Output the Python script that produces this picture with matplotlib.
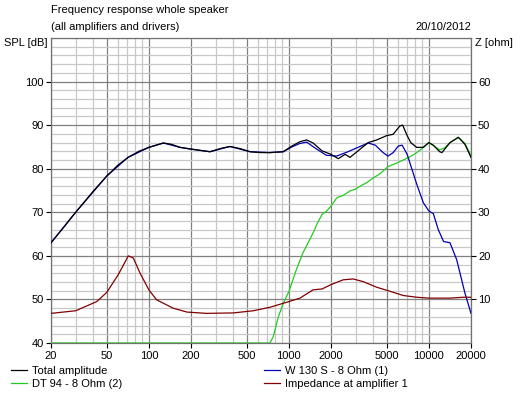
import matplotlib
matplotlib.use("Agg")
import matplotlib.pyplot as plt
from matplotlib.ticker import FixedLocator, NullFormatter, FixedFormatter

plt.rcParams['font.family'] = ['Liberation Sans', 'DejaVu Sans']

# ---- data ----
total_f = [20, 25, 30, 40, 50, 60, 71, 85, 100, 127, 145, 167, 200, 273, 330, 380, 450, 528, 626,
           733, 912, 1050, 1200, 1340, 1490, 1726, 2000, 2255, 2525, 2735, 3120, 3690, 4240, 5000,
           5560, 6200, 6500, 7000, 7420, 8185, 9100, 10000, 10760, 11950, 12400, 14160, 16240,
           18100, 20000]
total_db = [63.0, 66.8, 70.0, 74.8, 78.3, 80.8, 82.6, 84.0, 84.9, 85.9, 85.6, 84.9, 84.5, 83.9, 84.7,
            85.1, 84.6, 83.9, 83.7, 83.7, 83.9, 85.2, 86.2, 86.6, 85.9, 84.1, 83.3, 82.3, 83.3, 82.6,
            84.1, 86.0, 86.6, 87.6, 87.9, 89.8, 90.0, 87.6, 86.0, 84.9, 84.9, 86.0, 85.4, 83.9, 83.7,
            86.0, 87.2, 85.6, 82.6]

woof_f = [20, 30, 50, 71, 100, 127, 167, 200, 273, 380, 528, 733, 912, 1050, 1200, 1340, 1581, 1850,
          2196, 2600, 3120, 3690, 4150, 4710, 5110, 5560, 6050, 6440, 7000, 7640, 8185, 9129, 10000,
          10760, 11680, 12740, 14160, 15810, 18120, 20000]
woof_db = [63.0, 70.0, 78.3, 82.6, 84.9, 85.9, 84.9, 84.5, 83.9, 85.1, 83.9, 83.7, 83.9, 85.0, 85.8,
           86.1, 84.5, 83.1, 82.9, 83.8, 84.9, 85.9, 85.4, 83.7, 82.9, 83.7, 85.2, 85.4, 83.3, 79.5,
           76.5, 72.2, 70.3, 69.7, 66.0, 63.3, 63.0, 59.1, 51.4, 46.8]

tweet_f = [20, 733, 774, 843, 912, 1000, 1131, 1261, 1408, 1527, 1581, 1726, 1850, 2000, 2196, 2450,
           2735, 3000, 3230, 3600, 4020, 4500, 5112, 5800, 6568, 7400, 8185, 8850, 10000, 10900,
           11950, 13000, 14160, 16240, 18100, 20000]
tweet_db = [40.0, 40.0, 41.5, 46.1, 49.1, 51.8, 56.8, 60.7, 63.7, 66.0, 67.2, 69.5, 70.2, 71.4, 73.3,
            73.9, 74.9, 75.3, 76.0, 76.8, 77.9, 78.9, 80.5, 81.2, 82.0, 82.8, 83.7, 84.5, 86.0, 85.2,
            84.3, 84.8, 86.0, 87.2, 85.8, 83.0]

imp_f = [20, 30, 42.4, 50, 60.5, 71.3, 77.5, 86.3, 100, 113.7, 149, 187, 258, 400, 557, 733, 1000,
         1200, 1490, 1726, 2000, 2443, 2875, 3385, 4240, 5000, 6568, 8185, 10000, 14160, 17600, 20000]
imp_ohm = [6.8, 7.4, 9.5, 11.6, 15.7, 20.0, 19.5, 16.1, 12.2, 9.9, 8.0, 7.1, 6.8, 6.9, 7.4, 8.2, 9.5,
           10.3, 12.2, 12.4, 13.4, 14.5, 14.7, 14.1, 12.8, 12.1, 10.9, 10.5, 10.3, 10.3, 10.5, 10.5]

x_ticks = [20, 50, 100, 200, 500, 1000, 2000, 5000, 10000, 20000]
x_minor = [30, 40, 60, 70, 80, 90, 300, 400, 600, 700, 800, 900, 3000, 4000, 6000, 7000, 8000, 9000]
spl_ticks = [40, 50, 60, 70, 80, 90, 100]
z_ticks = [10, 20, 30, 40, 50, 60]

labels = ["Total amplitude", "W 130 S - 8 Ohm (1)", "DT 94 - 8 Ohm (2)", "Impedance at amplifier 1"]
colors = ["#000000", "#0000b4", "#22cc22", "#800000"]

W, H = 520, 397
fig = plt.figure(figsize=(W / 100, H / 100), dpi=100)
fig.patch.set_facecolor('white')

L, R, T, B = 51, 471, 38, 343
ax = fig.add_axes([L / W, 1 - B / H, (R - L) / W, (B - T) / H])
ax.set_xscale('log')
ax.set_xlim(20, 20000)
ax.set_ylim(40, 110)

ax.xaxis.set_major_locator(FixedLocator(x_ticks))
ax.xaxis.set_major_formatter(FixedFormatter([str(v) for v in x_ticks]))
ax.xaxis.set_minor_locator(FixedLocator(x_minor))
ax.xaxis.set_minor_formatter(NullFormatter())
ax.yaxis.set_major_locator(FixedLocator(spl_ticks))
ax.yaxis.set_minor_locator(FixedLocator([v for v in range(40, 111, 2) if v % 10 != 0] + [110]))

ax.grid(True, which='major', color='#808080', lw=0.9)
ax.grid(True, which='minor', color='#c8c8c8', lw=0.9)
ax.set_axisbelow(True)
ax.tick_params(which='major', direction='out', length=3.5, width=0.8, color='black',
               labelsize=8, pad=1.5)
ax.tick_params(axis='x', which='major', pad=2)
ax.tick_params(which='minor', length=0)
for s in ax.spines.values():
    s.set_color('#707070')
    s.set_linewidth(0.9)

ax2 = ax.twinx()
ax2.set_ylim(0, 70)
ax2.yaxis.set_major_locator(FixedLocator(z_ticks))
ax2.yaxis.set_minor_locator(FixedLocator([]))
ax2.tick_params(which='major', direction='out', length=3.5, width=0.8, color='black',
                labelsize=8, pad=1.5)
for s in ax2.spines.values():
    s.set_visible(False)

lw = 0.9
h_tw, = ax.plot(tweet_f, tweet_db, color=colors[2], lw=lw, label=labels[2], zorder=3)
h_wf, = ax.plot(woof_f, woof_db, color=colors[1], lw=lw, label=labels[1], zorder=3)
h_tot, = ax.plot(total_f, total_db, color=colors[0], lw=lw, label=labels[0], zorder=4)
h_imp, = ax2.plot(imp_f, imp_ohm, color=colors[3], lw=lw, label=labels[3])

def fx(px):
    return px / W

def fy(py):
    return 1 - py / H

fig.text(fx(51), fy(10), "Frequency response whole speaker", fontsize=8, va='center', ha='left')
fig.text(fx(51), fy(27), "(all amplifiers and drivers)", fontsize=8, va='center', ha='left')
fig.text(fx(471), fy(27), "20/10/2012", fontsize=8, va='center', ha='right')
fig.text(fx(4), fy(43), "SPL [dB]", fontsize=8, va='center', ha='left')
fig.text(fx(475), fy(43), "Z [ohm]", fontsize=8, va='center', ha='left')

common = dict(loc='upper left', frameon=False, fontsize=8, handlelength=1.4, handletextpad=0.5,
              labelspacing=0.28, borderaxespad=0, borderpad=0)
fig.legend([h_tot, h_tw], [labels[0], labels[2]], bbox_to_anchor=(fx(11), fy(366)), **common)
fig.legend([h_wf, h_imp], [labels[1], labels[3]], bbox_to_anchor=(fx(264), fy(366)), **common)

fig.savefig("out.png", dpi=100)
